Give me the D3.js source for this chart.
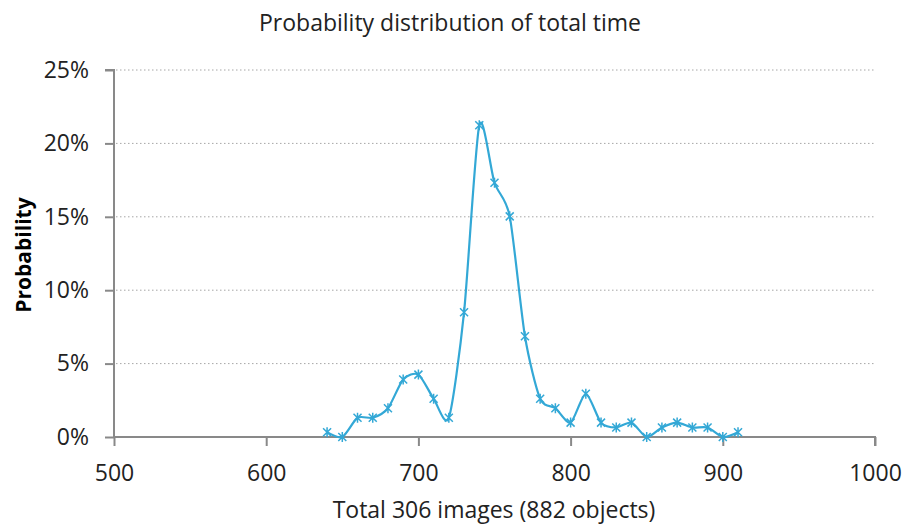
<!DOCTYPE html>
<html><head><meta charset="utf-8">
<script src="https://cdn.jsdelivr.net/npm/d3@7"></script>
<style>body{margin:0;background:#fff}</style>
</head><body>
<svg id="c" width="905" height="529"></svg>
<script>
const times = [640,650,660,670,680,690,700,710,720,730,740,750,760,770,780,790,800,810,820,830,840,850,860,870,880,890,900,910];
const probs = [0.33,0,1.31,1.31,1.96,3.92,4.25,2.61,1.31,8.50,21.24,17.32,15.03,6.86,2.61,1.96,0.98,2.94,0.98,0.65,0.98,0,0.65,0.98,0.65,0.65,0,0.33];
const xTicks = [500,600,700,800,900,1000];
const yTicks = [0,5,10,15,20,25];
const titleText = "Probability distribution of total time";
const xLabel = "Total 306 images (882 objects)";
const yLabel = "Probability";

const svg = d3.select("#c");
const L = 114, R = 875, T = 70, B = 437;
const x = d3.scaleLinear().domain([500,1000]).range([L,R]);
const y = d3.scaleLinear().domain([0,25]).range([B,T]);
const font = "'Open Sans', sans-serif";
const col = "#33a8d6";
const fs = 23;

// grid
svg.append("g").selectAll("line").data(yTicks.filter(d=>d>0)).join("line")
  .attr("x1",L+2).attr("x2",R).attr("y1",d=>y(d)).attr("y2",d=>y(d))
  .attr("stroke","#a6a6a6").attr("stroke-width",1).attr("stroke-dasharray","1.5,2.5");

const ya = svg.append("g").attr("transform",`translate(${L},0)`)
  .call(d3.axisLeft(y).tickValues(yTicks).tickFormat(d=>d+"%").tickSize(9).tickPadding(16));
const xa = svg.append("g").attr("transform",`translate(0,${B})`)
  .call(d3.axisBottom(x).tickValues(xTicks).tickFormat(d3.format("d")).tickSize(9).tickPadding(19));
[ya,xa].forEach(a=>{
  a.select(".domain").attr("stroke","#898989").attr("stroke-width",2);
  a.selectAll(".tick line").attr("stroke","#898989").attr("stroke-width",2);
  a.selectAll("text").attr("font-family",font).attr("font-size",fs).attr("fill","#222");
});
ya.select(".domain").attr("d",`M-9,${T}H0V${B}`);
xa.select(".domain").attr("d",`M${L},0H${R}V9`);

const pts = times.map((t,i)=>[x(t),y(probs[i])]);
svg.append("path").attr("d",d3.line().curve(d3.curveCardinal.tension(0.25))(pts))
  .attr("fill","none").attr("stroke",col).attr("stroke-width",2.2);

const m = svg.append("g").selectAll("g").data(pts).join("g")
  .attr("transform",d=>`translate(${d[0]},${d[1]})`);
m.append("path").attr("d","M-4,-4L4,4M-4,4L4,-4M0,-5V5")
  .attr("stroke",col).attr("stroke-width",1.5).attr("fill","none");

svg.append("text").attr("x",450).attr("y",31).attr("text-anchor","middle")
  .attr("font-family",font).attr("font-size",fs).attr("fill","#222").text(titleText);
svg.append("text").attr("x",494).attr("y",518).attr("text-anchor","middle")
  .attr("font-family",font).attr("font-size",fs).attr("fill","#222").text(xLabel);
svg.append("text").attr("transform","translate(31,255) rotate(-90)").attr("text-anchor","middle")
  .attr("font-family",font).attr("font-size",21).attr("font-weight","bold").attr("fill","#000").text(yLabel);
</script>
</body></html>
